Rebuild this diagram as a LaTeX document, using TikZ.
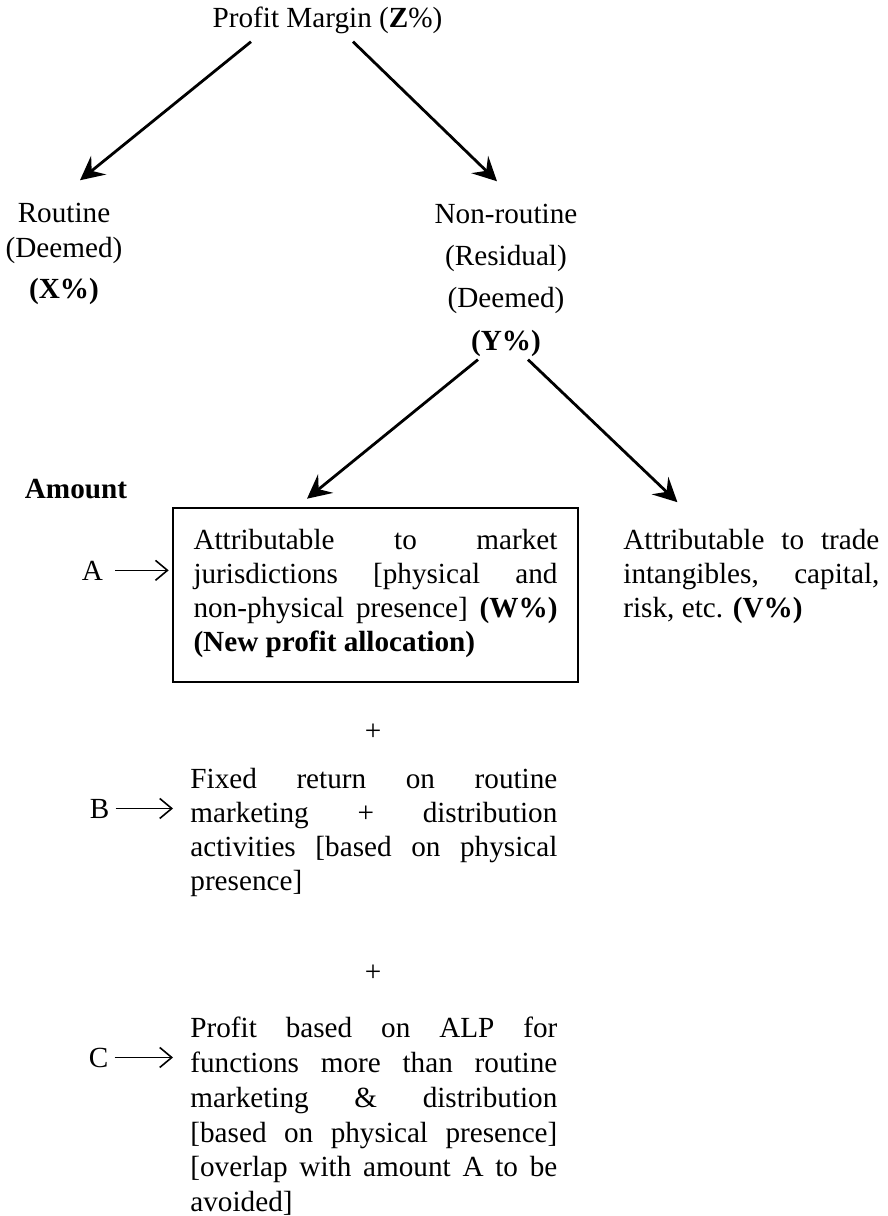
\documentclass[tikz,border=0pt]{standalone}
\usepackage{fontspec}
\setmainfont{Liberation Serif}
\usetikzlibrary{arrows.meta,calc}
\newcommand{\lb}{\linebreak{}}
\begin{document}
\begin{tikzpicture}[x=0.5pt,y=-0.5pt,
  every node/.style={inner sep=0pt, font=\fontsize{14.6}{17}\selectfont},
  lbl/.style={anchor=base},
  para/.style={anchor=north west, align=justify, text width=#1},
  bigarrow/.style={line width=1.4pt, -{Stealth[length=12pt,width=12pt,inset=4.5pt]}},
  smallarrow/.style={line width=0.75pt, -{Straight Barb[length=6pt,width=10pt,line width=0.8pt]}},
  boxed/.style={draw, line width=1.3pt, minimum width=202.5pt, minimum height=87pt, align=justify, text width=182pt}
]
\useasboundingbox (0,0) rectangle (888,1216);

% top level
\node[lbl] (pm) at (327.5,27) {Profit Margin (\textbf{Z}\%)};
\node[lbl] (r1) at (64,222) {Routine};
\node[lbl] (r2) at (64,257) {(Deemed)};
\node[lbl] (r3) at (64,298) {\textbf{(X\%)}};
\node[lbl] (n1) at (506,223) {Non-routine};
\node[lbl] (n2) at (506,265) {(Residual)};
\node[lbl] (n3) at (506,307) {(Deemed)};
\node[lbl] (n4) at (506,350) {\textbf{(Y\%)}};

\draw[bigarrow] ($(pm.south)+(-76.5,8)$) -- ($(r1.north)+(16,-22)$);
\draw[bigarrow] ($(pm.south)+(25.5,8)$) -- ($(n1.north)+(-9,-22)$);

% second level
\node[lbl] (amt) at (76,498) {\textbf{Amount}};
\node[boxed] (box) at (375.5,595) {Attributable to market\lb jurisdictions [physical and\lb non-physical presence] \textbf{(W\%)}\lb \textbf{(New profit allocation)}\strut};
\node[para=128pt] (vtext) at (623,525.2) {\strut Attributable to trade\lb intangibles, capital,\lb risk, etc. \textbf{(V\%)}};

\draw[bigarrow] ($(n4.south)+(-28,3)$) -- ($(box.north)+(-68.5,-8)$);
\draw[bigarrow] ($(n4.south)+(22,3)$) -- ($(vtext.north)+(-74,-23)$);

% amounts
\node[lbl] (A) at (92.5,580) {A};
\draw[smallarrow, shorten <=6pt, shorten >=1.5pt] (A.east) -- (A.east -| box.west);

\node (p1) at (373,732) {+};

\node[lbl] (B) at (99.5,818) {B};
\node[para=183.5pt] (btext) at (190,764.2) {\strut Fixed return on routine\lb marketing + distribution\lb activities [based on physical\lb presence]};
\draw[smallarrow, shorten <=3pt, shorten >=8.5pt] (B.east) -- (B.east -| btext.west);

\node (p2) at (373,973) {+};

\node[lbl] (C) at (98.5,1067) {C};
\node[para=183.5pt, font=\fontsize{14.6}{17.35}\selectfont] (ctext) at (190,1013.2) {\strut Profit based on ALP for\lb functions more than routine\lb marketing \& distribution\lb [based on physical presence]\lb [overlap with amount A to be\lb avoided]};
\draw[smallarrow, shorten <=3pt, shorten >=8.5pt] (C.east) -- (C.east -| ctext.west);
\end{tikzpicture}
\end{document}
